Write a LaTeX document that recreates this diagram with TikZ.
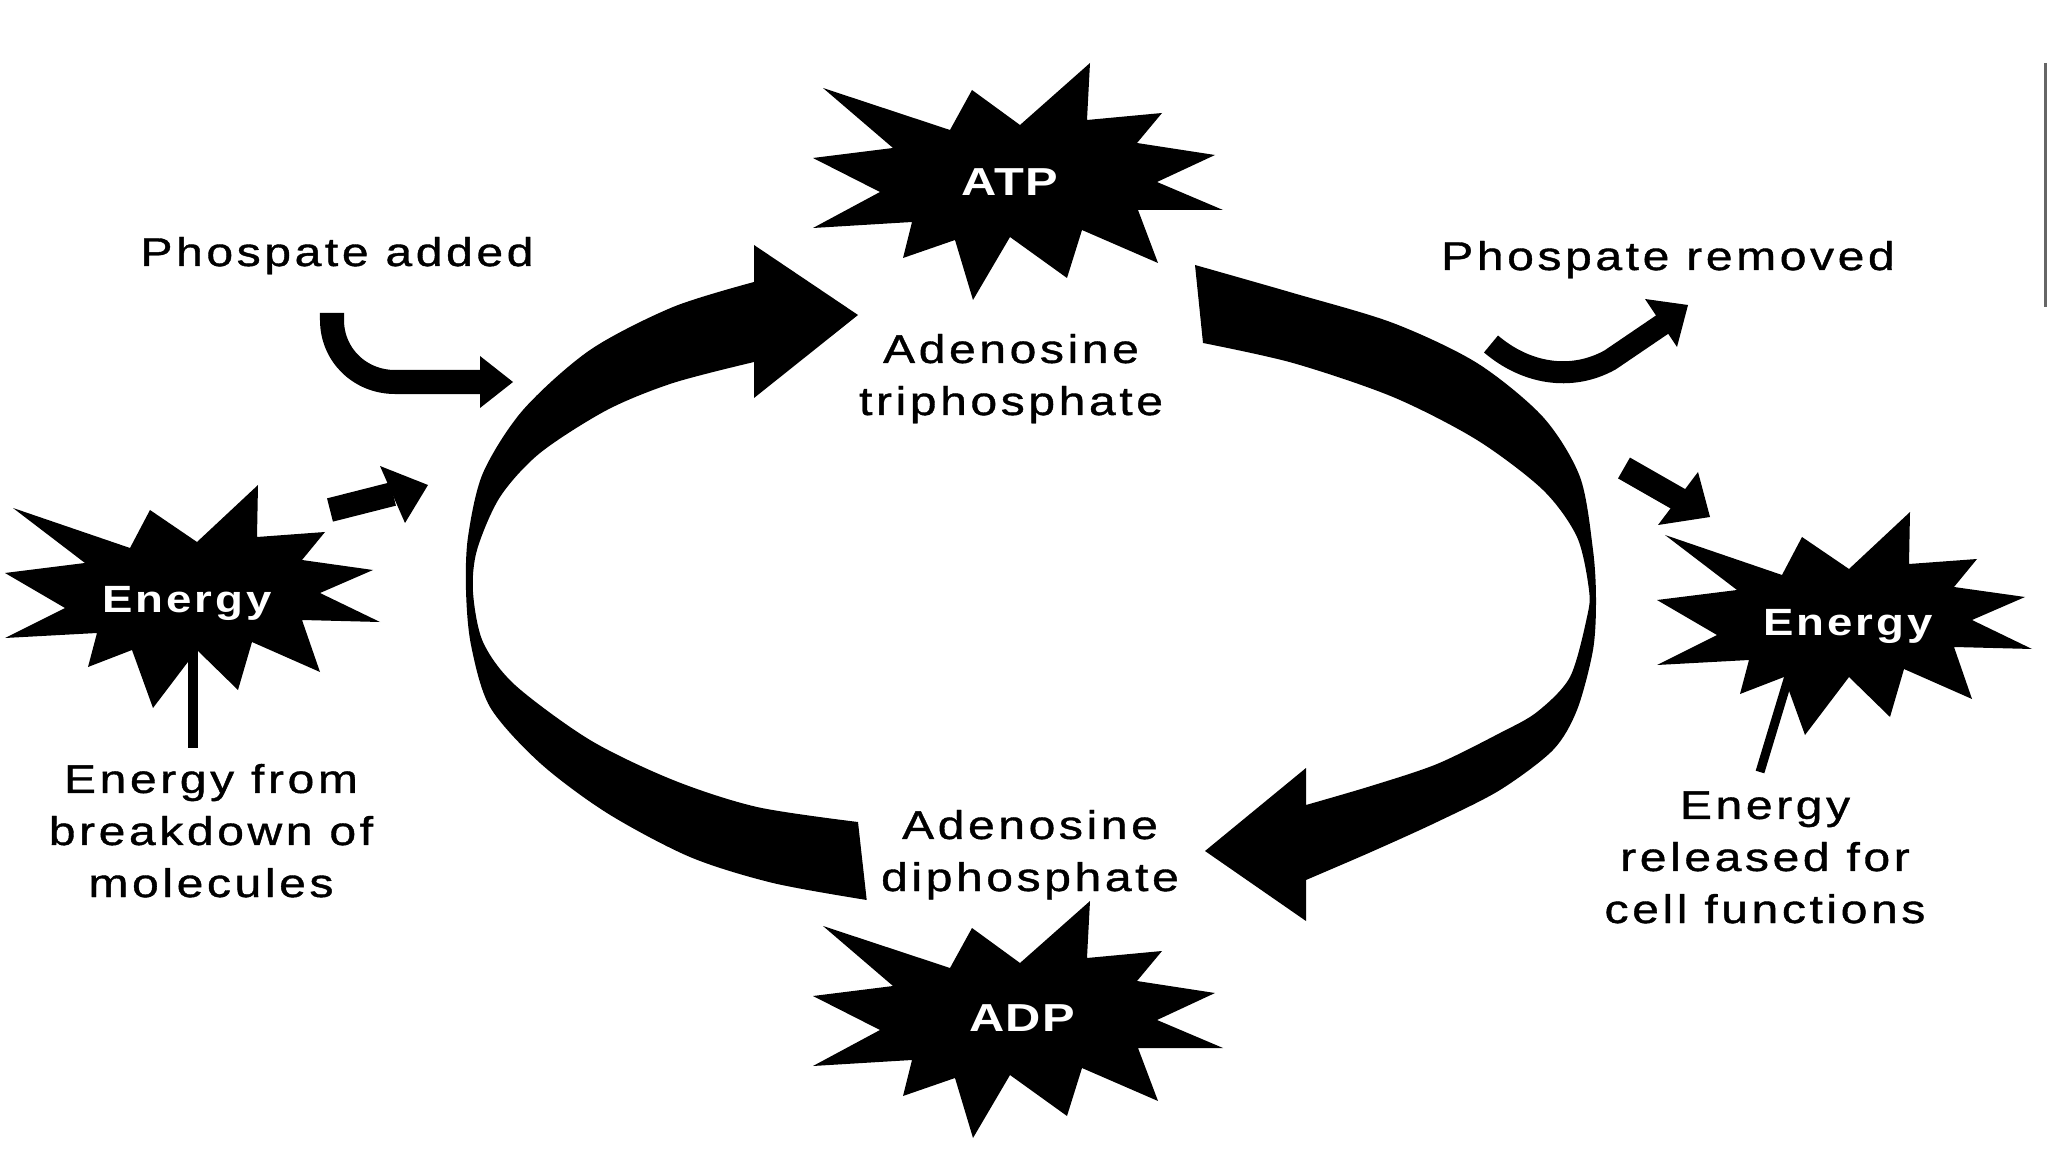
\documentclass[tikz,border=0pt]{standalone}
\usepackage{fontspec}
\setmainfont{Liberation Sans}
\newfontfamily\labfont[FakeStretch=1.2,LetterSpace=9,FakeBold=1]{Liberation Sans}
\newfontfamily\starfont[FakeStretch=1.2,LetterSpace=8]{Liberation Sans}
\newfontfamily\cyclefont[FakeStretch=1.25,LetterSpace=3]{Liberation Sans}
\newcommand\atpburst{(823,88) -- (950,130) -- (972,90) -- (1020,125) -- (1090,63) -- (1087,120) -- (1162,113) -- (1137,143) -- (1215,155) -- (1157,182) -- (1223,210) -- (1138,210) -- (1158,263) -- (1082,230) -- (1067,278) -- (1010,237) -- (973,300) -- (955,240) -- (903,258) -- (912,222) -- (813,228) -- (880,192) -- (813,158) -- (893,148) -- cycle}
\newcommand\energyburst{(13,508) -- (130,548) -- (150,510) -- (197,542) -- (258,485) -- (257,537) -- (325,532) -- (302,560) -- (373,570) -- (320,593) -- (380,622) -- (302,620) -- (320,672) -- (252,642) -- (238,690) -- (197,650) -- (153,708) -- (132,650) -- (88,667) -- (97,633) -- (5,638) -- (65,608) -- (5,573) -- (85,563) -- cycle}
\tikzset{
  lab/.style={font=\labfont\fontsize{11.38pt}{14.8pt}\selectfont, align=center, inner sep=0pt, anchor=base},
  starlab/.style={font=\starfont\bfseries\fontsize{10.8pt}{12pt}\selectfont, text=white, inner sep=0pt, anchor=base},
  cyclab/.style={font=\cyclefont\bfseries\fontsize{11.1pt}{13pt}\selectfont, text=white, inner sep=0pt},
  burst/.style={fill=black},
  band/.style={fill=black},
  shaft/.style={draw=black, line width=0.24cm},
  stem/.style={draw=black, line width=0.09cm},
  head/.style={fill=black},
}
\begin{document}
\begin{tikzpicture}[x=0.01cm,y=-0.01cm]
\useasboundingbox (0,0) rectangle (2048,1152);
\fill[white] (0,0) rectangle (2048,1152);

% bursts
\fill[burst] \atpburst;
\fill[burst, shift={(0,838)}] \atpburst;
\fill[burst] \energyburst;
\fill[burst, shift={(1652,27)}] \energyburst;

\node[cyclab] (atp) at (1010,182) {ATP};
\node[cyclab] (adp) at (1022,1018) {ADP};
\node[starlab] (enL) at (187,613) {Energy};
\node[starlab] (enR) at (1848,636) {Energy};

% left big arrow (ADP -> ATP)
\fill[band] plot[smooth] coordinates {(866.7,900) (773,883) (690,857) (607,813) (540,763) (490,707) (471,645) (466,590) (468,537) (483,473) (523,410) (590,350) (673,307) (754,282)}
  -- (754,245) -- (858,315) -- (754,398) -- (754,362)
  -- plot[smooth] coordinates {(754,362) (673,383) (607,410) (540,453) (500,497) (477,550) (473,592) (483,642) (515,685) (590,740) (673,780) (757,807) (858,822)} -- cycle;

% right big arrow (ATP -> ADP)
\fill[band] plot[smooth] coordinates {(1195,265) (1293,293) (1393,323) (1477,363) (1543,417) (1580,477) (1593,550) (1596,600) (1593,650) (1577,710) (1553,750) (1500,790) (1437,822) (1371,852) (1306,880)}
  -- (1306,921) -- (1205,851) -- (1306,768) -- (1306,805)
  -- plot[smooth] coordinates {(1306,805) (1371,786) (1437,764) (1500,733) (1537,712) (1570,677) (1587,617) (1589,590) (1577,537) (1543,490) (1477,440) (1393,397) (1293,363) (1203,343)} -- cycle;

% phosphate added hook arrow
\coordinate (hookS) at (332,313);
\coordinate (hookE) at (482,382);
\draw[shaft] (hookS) -- (332,320) .. controls (332,355) and (360,382) .. (395,382) -- (hookE);
\fill[head] (480,356) -- (513,382) -- (480,408) -- cycle;

% energy in arrow
\coordinate (einS) at (330,510);
\coordinate (einE) at (393,494);
\draw[shaft] (einS) -- (einE);
\fill[head] (380,466) -- (428,485) -- (405,523) -- cycle;

% phosphate removed arrow
\coordinate (premS) at (1491,344);
\coordinate (premE) at (1663,324);
\draw[shaft, line width=0.22cm] (premS) .. controls (1525,373) and (1570,382) .. (1610,360) -- (premE);
\fill[head] (1645,299) -- (1688,305) -- (1677,347) -- cycle;

% energy out arrow
\coordinate (eoutS) at (1624,468);
\coordinate (eoutE) at (1680,500);
\draw[shaft] (eoutS) -- (eoutE);
\fill[head] (1698,472) -- (1710,517) -- (1658,525) -- cycle;

% stems
\coordinate (stemLa) at (193,645);
\coordinate (stemLb) at (193,748);
\draw[stem] (stemLa) -- (stemLb);
\coordinate (stemRa) at (1789,676);
\coordinate (stemRb) at (1760,772);
\draw[stem] (stemRa) -- (stemRb);

% labels (anchor = baseline of last line)
\node[lab] (padd) at (337,266) {Phospate added};
\node[lab] (prem) at (1668,270) {Phospate removed};
\node[lab] (atpname) at (1011,415) {Adenosine\\triphosphate};
\node[lab] (adpname) at (1030,891) {Adenosine\\diphosphate};
\node[lab] (enLlab) at (211,897) {Energy from\\breakdown of\\molecules};
\node[lab] (enRlab) at (1765,923) {Energy\\released for\\cell functions};

% edge artifact line
\draw[black!60, line width=0.03cm] (2045,63) -- (2045,307);
\end{tikzpicture}
\end{document}
